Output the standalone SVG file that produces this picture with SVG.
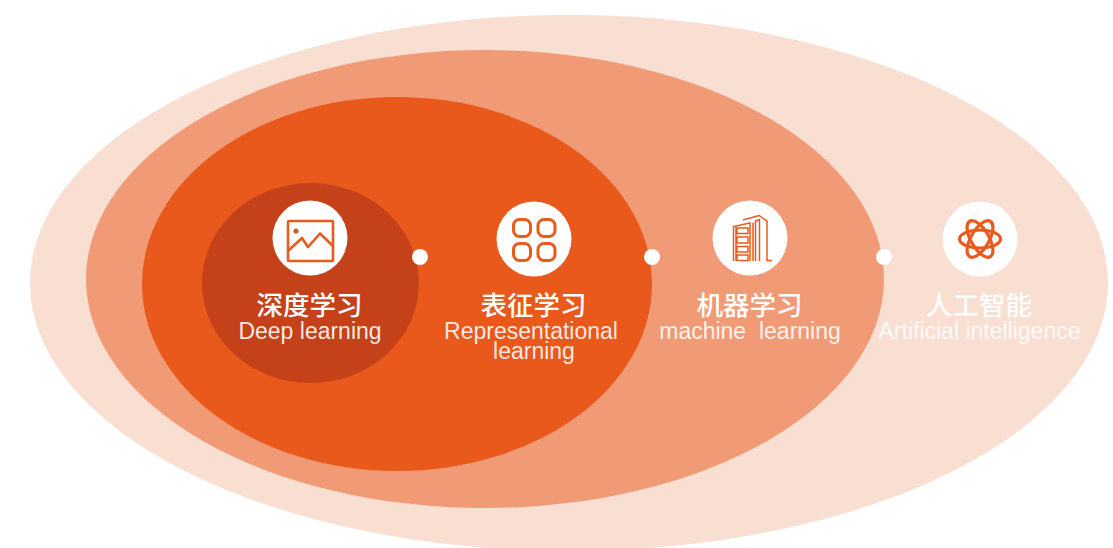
<svg xmlns="http://www.w3.org/2000/svg" width="1113" height="548" viewBox="0 0 1113 548">
<style>
.zh{font-family:"Noto Sans CJK SC","Liberation Sans",sans-serif;font-size:26.5px;font-weight:500;fill:#fff;text-anchor:middle}
.en{font-family:"Liberation Sans",Arial,sans-serif;font-size:23px;fill:#fff;fill-opacity:.88;text-anchor:middle}
.ic{fill:none;stroke:#e95a1c;stroke-width:2.6;stroke-linejoin:round;stroke-linecap:round}
.grid{fill:none;stroke:#e95a1c;stroke-width:3}
.atom{fill:none;stroke:#e95a1c;stroke-width:3.2}
.th{fill:none;stroke:#e95a1c;stroke-width:1.5}
.disc{fill:#fff}
</style>
<rect width="1113" height="548" fill="#fff"/>
<g id="ellipses">
<ellipse id="ai-area" cx="569" cy="283" rx="539" ry="268" fill="#f9ded2"/>
<ellipse id="ml-area" cx="485" cy="279" rx="399" ry="229" fill="#f19b76"/>
<ellipse id="rl-area" cx="397" cy="284" rx="255" ry="187" fill="#e8591b"/>
<ellipse id="dl-area" cx="310.5" cy="283" rx="108.5" ry="100" fill="#c5411a"/>
</g>
<g id="connectors" class="disc">
<circle cx="420" cy="257" r="8"/>
<circle cx="652" cy="257" r="8"/>
<circle cx="884" cy="257" r="8"/>
</g>
<g id="node-deep">
<circle class="disc" cx="310" cy="238" r="37.5"/>
<rect class="ic" x="288" y="221" width="45" height="40" rx="1"/>
<circle cx="296" cy="231" r="2.6" fill="#c5612a"/>
<path class="ic" d="M289 250L302 238L308 247L320 233.500L333 246"/>
<text class="zh" x="309.500" y="315">深度学习</text>
<text class="en" x="310" y="339">Deep learning</text>
</g>
<g id="node-representation">
<circle class="disc" cx="534" cy="239" r="37.500"/>
<rect class="grid" x="513.500" y="219.500" width="17" height="17" rx="6"/>
<rect class="grid" x="538" y="219.500" width="17" height="17" rx="6"/>
<rect class="grid" x="513.500" y="243.500" width="17" height="17" rx="6"/>
<rect class="grid" x="538" y="243.500" width="17" height="17" rx="6"/>
<text class="zh" x="533.500" y="315">表征学习</text>
<text class="en" x="531" y="339">Representational</text>
<text class="en" x="534" y="359">learning</text>
</g>
<g id="node-machine">
<circle class="disc" cx="750" cy="238" r="37.500"/>
<path class="th" d="M733.500 261V226.500L750 223V261M736 261V226M753 261V222.500M755.500 261V221L759.500 219.500V261M743 220L759 215.500L767 221V260.500H772"/>
<rect class="th" x="737" y="228" width="11" height="5.500"/>
<rect class="th" x="737" y="237" width="11" height="6"/>
<rect class="th" x="737" y="246.500" width="11" height="5.500"/>
<rect class="th" x="737" y="255" width="11" height="5.500"/>
<text class="zh" x="749.500" y="315">机器学习</text>
<text class="en" x="750" y="339" xml:space="preserve">machine  learning</text>
</g>
<g id="node-ai">
<circle class="disc" cx="980" cy="239" r="37.500"/>
<g class="atom">
<ellipse cx="980" cy="239" rx="20.500" ry="9"/>
<ellipse cx="980" cy="239" rx="20.500" ry="9" transform="rotate(60 980 239)"/>
<ellipse cx="980" cy="239" rx="20.500" ry="9" transform="rotate(120 980 239)"/>
</g>
<text class="zh" x="979" y="315">人工智能</text>
<text class="en" x="979.500" y="339">Artificial intelligence</text>
</g>
</svg>
